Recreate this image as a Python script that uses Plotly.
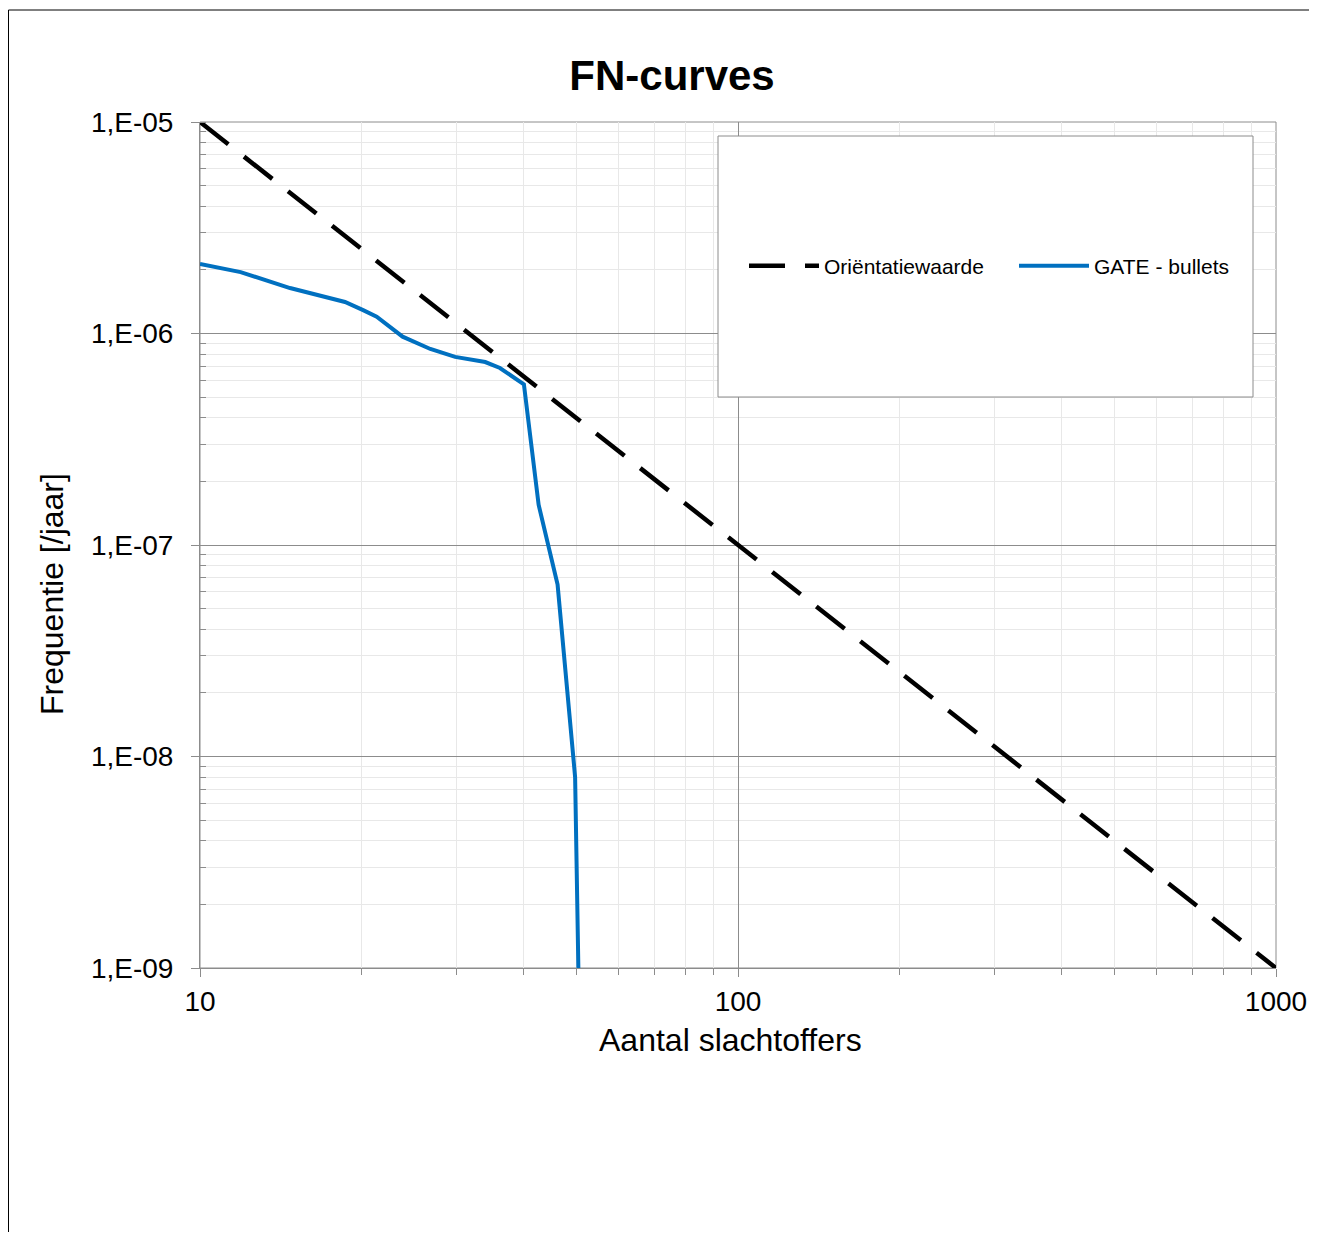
import plotly.graph_objects as go

# ---- data ----
n_orient = [10, 100, 150, 1000]
f_orient = [1e-5, 1e-7, 4.44e-8, 1e-9]

n_gate = [10, 11.9, 14.7, 17.0, 18.6, 20.1, 21.3, 23.8, 26.8, 29.8, 33.9, 36.1, 40, 42.6, 46.2, 49.8, 50.5]
f_gate = [2.13e-6, 1.95e-6, 1.64e-6, 1.49e-6, 1.41e-6, 1.29e-6, 1.20e-6, 9.66e-7, 8.45e-7,
          7.75e-7, 7.33e-7, 6.87e-7, 5.75e-7, 1.55e-7, 6.5e-8, 8.0e-9, 1.0e-9]

y_tickvals = [1e-9, 1e-8, 1e-7, 1e-6, 1e-5]
y_ticktext = ["1,E-09", "1,E-08", "1,E-07", "1,E-06", "1,E-05"]
x_tickvals = [10, 100, 1000]
x_ticktext = ["10", "100", "1000"]

FONT = "Liberation Sans, Arial, sans-serif"

fig = go.Figure()
fig.add_trace(go.Scatter(x=n_orient, y=f_orient, mode="lines", name="Oriëntatiewaarde",
                         line=dict(color="black", width=4.5, dash="36px,20px")))
fig.add_trace(go.Scatter(x=n_gate, y=f_gate, mode="lines", name="GATE - bullets",
                         line=dict(color="#0070C0", width=4)))

OFF = 8  # page body margin
W, H = 1317 - 2 * OFF, 1244 - 2 * OFF - 4
L, R, T, B = 200 - OFF, 1276 - OFF, 122 - OFF, 968 - OFF
pw, ph = R - L, B - T


def px(x):
    return (x - OFF - L) / pw


def py(y):
    return (B - (y - OFF)) / ph


shapes = [
    # outer chart frame
    dict(type="rect", xref="paper", yref="paper", x0=px(8.5), x1=px(1340), y0=py(1270), y1=py(10),
         line=dict(color="black", width=1), fillcolor="rgba(0,0,0,0)", layer="below"),
    # legend box
    dict(type="rect", xref="paper", yref="paper", x0=px(718), x1=px(1253), y0=py(397), y1=py(136),
         line=dict(color="#8c8c8c", width=1), fillcolor="white", layer="above"),
]

fig.update_layout(
    width=W, height=H,
    margin=dict(l=L, r=W - R, t=T, b=H - B, pad=0, autoexpand=False),
    paper_bgcolor="white", plot_bgcolor="white",
    font=dict(family=FONT, color="black"),
    title=dict(text="<b>FN-curves</b>", x=(672 - OFF) / W, xanchor="center", y=1 - (75 - OFF) / H,
               yanchor="middle", font=dict(size=42, family=FONT, color="black")),
    shapes=shapes,
    showlegend=True,
    legend=dict(orientation="h", x=px(744), xanchor="left", y=py(266), yanchor="middle",
                bgcolor="rgba(0,0,0,0)", borderwidth=0, font=dict(size=21, family=FONT),
                itemwidth=70, entrywidth=185, entrywidthmode="pixels"),
    annotations=[
        dict(text="Aantal slachtoffers", xref="paper", yref="paper", x=px(730), y=py(1040),
             xanchor="center", yanchor="middle", showarrow=False,
             font=dict(size=32, family=FONT, color="black")),
        dict(text="Frequentie [/jaar]", xref="paper", yref="paper", x=px(52), y=py(594),
             xanchor="center", yanchor="middle", showarrow=False, textangle=-90,
             font=dict(size=32, family=FONT, color="black")),
    ],
)

fig.update_xaxes(
    type="log", range=[1, 3], tickvals=x_tickvals, ticktext=x_ticktext, automargin=False,
    tickfont=dict(size=28, family=FONT, color="black"),
    showline=True, linecolor="#8c8c8c", linewidth=1, mirror=False,
    showgrid=True, gridcolor="#8c8c8c", gridwidth=1,
    ticks="outside", ticklen=8, tickcolor="#8c8c8c",
    minor=dict(showgrid=True, gridcolor="#e8e8e8", gridwidth=1, ticks="outside", ticklen=6,
               tickcolor="#8c8c8c", dtick="D1"),
    zeroline=False,
)
fig.update_yaxes(
    type="log", range=[-9, -5], tickvals=y_tickvals, ticktext=y_ticktext, automargin=False,
    tickfont=dict(size=28, family=FONT, color="black"), ticklabelstandoff=12,
    showline=True, linecolor="#8c8c8c", linewidth=1,
    showgrid=True, gridcolor="#8c8c8c", gridwidth=1,
    ticks="outside", ticklen=8, tickcolor="#8c8c8c",
    minor=dict(showgrid=True, gridcolor="#e8e8e8", gridwidth=1, ticks="inside", ticklen=6,
               tickcolor="#8c8c8c", dtick="D1"),
    zeroline=False,
)

# top and right border of plot area
fig.add_shape(type="rect", xref="paper", yref="paper", x0=0, x1=1, y0=0, y1=1,
              line=dict(color="#8c8c8c", width=1), layer="below")

fig.write_html("out.html")
